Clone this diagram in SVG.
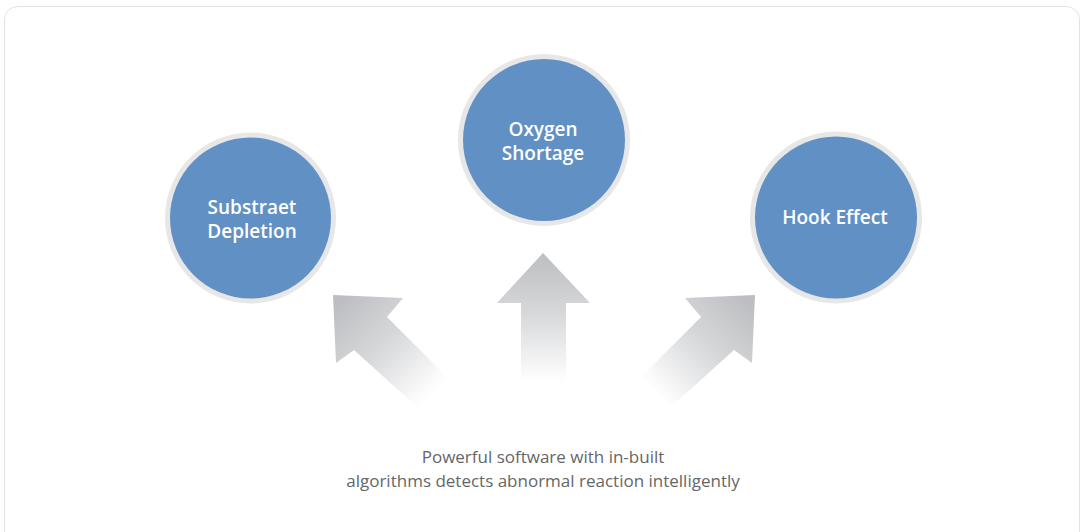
<svg xmlns="http://www.w3.org/2000/svg" width="1081" height="532" viewBox="0 0 1081 532">
<defs>
<style>
.ring{fill:#e7e7e7}
.disc{fill:#6190c5}
.lbl{font-family:"Open Sans","Liberation Sans",sans-serif;font-weight:600;font-size:19px;fill:#ffffff;text-anchor:middle}
.cap{font-family:"Open Sans","Liberation Sans",sans-serif;font-size:17px;fill:#666666;text-anchor:middle}
</style>
<linearGradient id="gUp" x1="0" y1="253" x2="0" y2="382" gradientUnits="userSpaceOnUse">
<stop offset="0" stop-color="#bdbec1"/>
<stop offset="0.45" stop-color="#d6d7d9"/>
<stop offset="1" stop-color="#ffffff"/>
</linearGradient>
<linearGradient id="gL" x1="340" y1="300" x2="432" y2="392" gradientUnits="userSpaceOnUse">
<stop offset="0" stop-color="#bdbec1"/>
<stop offset="0.5" stop-color="#d8d9db"/>
<stop offset="1" stop-color="#ffffff"/>
</linearGradient>
<linearGradient id="gR" x1="748" y1="300" x2="656" y2="392" gradientUnits="userSpaceOnUse">
<stop offset="0" stop-color="#bdbec1"/>
<stop offset="0.5" stop-color="#d8d9db"/>
<stop offset="1" stop-color="#ffffff"/>
</linearGradient>
</defs>
<rect x="0" y="0" width="1081" height="532" fill="#ffffff"/>
<rect x="4.5" y="6.5" width="1075" height="540" rx="13" ry="13" fill="#ffffff" stroke="#e2e2e2" stroke-width="1"/>
<g id="connectors">
<polygon points="333,295 403,298 387,317 447,377 417,407 354,350 336,363" fill="url(#gL)"/>
<polygon points="543,253 590,303 566,303 566,382 521,382 521,303 497,303" fill="url(#gUp)"/>
<polygon points="755,295 685,298 701,317 641,377 671,407 734,350 752,363" fill="url(#gR)"/>
</g>
<g id="node-substrate">
<circle class="ring" cx="250.5" cy="218" r="85.5"/>
<circle class="disc" cx="250.5" cy="218" r="80.5"/>
<text class="lbl" x="252" y="214">Substraet</text>
<text class="lbl" x="252" y="238">Depletion</text>
</g>
<g id="node-oxygen">
<circle class="ring" cx="544" cy="140" r="86"/>
<circle class="disc" cx="544" cy="140" r="81"/>
<text class="lbl" x="543" y="136">Oxygen</text>
<text class="lbl" x="543" y="160">Shortage</text>
</g>
<g id="node-hook">
<circle class="ring" cx="836" cy="217.5" r="86"/>
<circle class="disc" cx="836" cy="217.5" r="81"/>
<text class="lbl" x="835" y="224">Hook Effect</text>
</g>
<g id="caption">
<text class="cap" x="543" y="463">Powerful software with in-built</text>
<text class="cap" x="543" y="487">algorithms detects abnormal reaction intelligently</text>
</g>
</svg>
